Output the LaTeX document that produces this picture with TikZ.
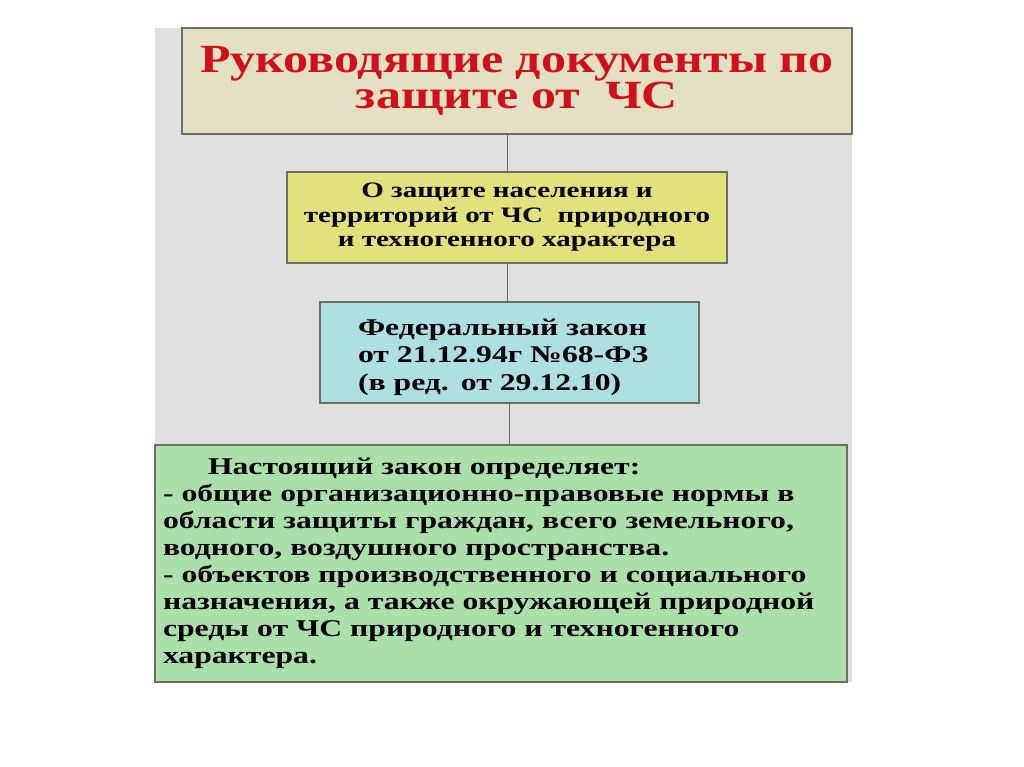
\documentclass[tikz,border=0pt]{standalone}
\usepackage{fontspec}
\setmainfont{Liberation Serif}[FakeStretch=1.32]
\newfontfamily\titlefont{Liberation Serif}[FakeStretch=1.25]
\usetikzlibrary{positioning}
\definecolor{panelgray}{HTML}{E0E0E0}
\definecolor{titlefill}{HTML}{E4E0C4}
\definecolor{lawfill}{HTML}{E2E27C}
\definecolor{fedfill}{HTML}{AEE0E2}
\definecolor{textfill}{HTML}{ACE0AA}
\definecolor{boxline}{HTML}{6E6E62}
\definecolor{titlered}{HTML}{D0101A}
\begin{document}
\begin{tikzpicture}[x=1pt,y=-1pt,
    docbox/.style={draw=boxline,line width=1.3pt,inner sep=0pt,font=\bfseries}]
  \useasboundingbox[fill=white] (0,0) rectangle (1024,767);
  \fill[panelgray] (155,28) rectangle (852,682);
  \node[docbox,fill=titlefill,minimum width=670,minimum height=106,align=center,
        text=titlered,font=\titlefont\bfseries\fontsize{40}{33}\selectfont] (title) at (517,81)
        {Руководящие документы по\\ защите от~~ЧС\rule[-6pt]{0pt}{1pt}};
  \node[docbox,fill=lawfill,minimum width=440,minimum height=91,align=center,
        font=\bfseries\fontsize{22}{24.5}\selectfont] (law) at (507,217.5)
        {О защите населения и\\ территорий от ЧС~~природного\\ и техногенного характера};
  \node[docbox,fill=fedfill,minimum width=379,minimum height=101,align=left,text width=303,
        font=\bfseries\fontsize{24}{27.5}\selectfont] (fed) at (509.5,352.5)
        {\rule{0pt}{26pt}Федеральный закон\\ от 21.12.94г №68-ФЗ\\ (в ред. от 29.12.10)};
  \node[docbox,fill=textfill,minimum width=692,minimum height=237,align=left,
        text width=676,font=\bfseries\fontsize{24}{27}\selectfont] (defs) at (501,563.5)
        {\hspace*{45pt}Настоящий закон определяет:\\
         - общие организационно-правовые нормы в\\
         области защиты граждан, всего земельного,\\
         водного, воздушного пространства.\\
         - объектов производственного и социального\\
         назначения, а также окружающей природной\\
         среды от ЧС природного и техногенного\\
         характера.};
  \draw[boxline,line width=1pt] (law.north |- title.south) -- (law.north);
  \draw[boxline,line width=1pt] (law.south) -- (law.south |- fed.north);
  \draw[boxline,line width=1pt] (fed.south) -- (fed.south |- defs.north);
\end{tikzpicture}
\end{document}
